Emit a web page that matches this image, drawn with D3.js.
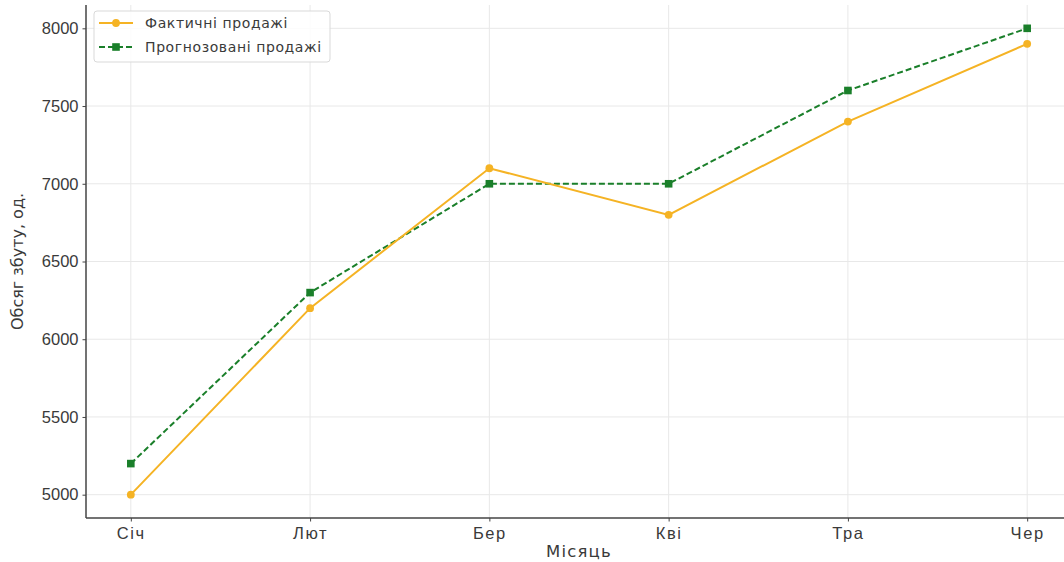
<!DOCTYPE html>
<html>
<head>
<meta charset="utf-8">
<script src="https://cdn.jsdelivr.net/npm/d3@7"></script>
<style>
  html, body { margin: 0; padding: 0; background: #fff; }
  svg { display: block; font-family: "DejaVu Sans", sans-serif; }
</style>
</head>
<body>
<svg id="chart" width="1064" height="562"></svg>
<script>
// Monthly sales: actual vs forecast
const months = ["Січ", "Лют", "Бер", "Кві", "Тра", "Чер"];
const actualSales = [5000, 6200, 7100, 6800, 7400, 7900];
const forecastSales = [5200, 6300, 7000, 7000, 7600, 8000];
const yTicks = [5000, 5500, 6000, 6500, 7000, 7500, 8000];
const seriesNames = ["Фактичні продажі", "Прогнозовані продажі"];

const svg = d3.select("#chart");
const margin = { left: 86, right: -8, top: 5, bottom: 44 };
const W = 1064, H = 562;

// padded domains (5% margins on each side)
const x = d3.scaleLinear()
  .domain([-0.25, months.length - 1 + 0.25])
  .range([margin.left, W - margin.right]);
const y = d3.scaleLinear()
  .domain([4850, 8150])
  .range([H - margin.bottom, margin.top]);

const plotTop = y(8150), plotBottom = y(4850), plotLeft = x(-0.25), plotRight = x(5.25);

// grid
const grid = svg.append("g");
grid.selectAll("line.gy").data(yTicks).join("line")
  .attr("x1", plotLeft).attr("x2", plotRight)
  .attr("y1", d => y(d)).attr("y2", d => y(d))
  .attr("stroke", "#e8e8e8").attr("stroke-width", 1);
grid.selectAll("line.gx").data(months.map((m, i) => i)).join("line")
  .attr("x1", d => x(d)).attr("x2", d => x(d))
  .attr("y1", plotTop).attr("y2", plotBottom)
  .attr("stroke", "#e8e8e8").attr("stroke-width", 1);

// axes
const xAxis = d3.axisBottom(x)
  .tickValues(months.map((m, i) => i))
  .tickFormat(i => months[i])
  .tickSize(3.5).tickPadding(4);
const yAxis = d3.axisLeft(y)
  .tickValues(yTicks)
  .tickFormat(d3.format("d"))
  .tickSize(3.5).tickPadding(4);

const gx = svg.append("g").attr("transform", `translate(0,${plotBottom})`).call(xAxis);
const gy = svg.append("g").attr("transform", `translate(${plotLeft},0)`).call(yAxis);
[gx, gy].forEach(g => {
  g.select(".domain").remove();
  g.selectAll(".tick line").attr("stroke", "#444").attr("stroke-width", 1);
  g.selectAll(".tick text").attr("fill", "#3a3a3a").style("font-size", "16.5px");
});
gx.selectAll(".tick text").style("letter-spacing", "1.6px").attr("dy", "0.8em");

// spines (left and bottom only)
svg.append("line").attr("x1", plotLeft).attr("x2", plotLeft)
  .attr("y1", plotTop).attr("y2", plotBottom)
  .attr("stroke", "#444").attr("stroke-width", 1.5);
svg.append("line").attr("x1", plotLeft).attr("x2", plotRight)
  .attr("y1", plotBottom).attr("y2", plotBottom)
  .attr("stroke", "#444").attr("stroke-width", 1.5);

// axis titles
svg.append("text")
  .attr("x", 579).attr("y", 557)
  .attr("text-anchor", "middle").attr("fill", "#3a3a3a")
  .style("font-size", "16.5px").style("letter-spacing", "1.2px").text("Місяць");
svg.append("text")
  .attr("transform", `translate(23,${(plotTop + plotBottom) / 2}) rotate(-90)`)
  .attr("text-anchor", "middle").attr("fill", "#3a3a3a")
  .style("font-size", "16px").text("Обсяг збуту, од.");

const orange = "#f5b324";
const green = "#1a7f2a";

const line = d3.line().x((d, i) => x(i)).y(d => y(d));

// forecast series (dashed, square markers)
svg.append("path").datum(forecastSales)
  .attr("d", line).attr("fill", "none")
  .attr("stroke", green).attr("stroke-width", 2)
  .attr("stroke-dasharray", "6,3");
svg.selectAll("rect.fc").data(forecastSales).join("rect")
  .attr("x", (d, i) => x(i) - 3.8).attr("y", d => y(d) - 3.8)
  .attr("width", 7.6).attr("height", 7.6).attr("fill", green);

// actual series (solid, circle markers)
svg.append("path").datum(actualSales)
  .attr("d", line).attr("fill", "none")
  .attr("stroke", orange).attr("stroke-width", 2);
svg.selectAll("circle.ac").data(actualSales).join("circle")
  .attr("cx", (d, i) => x(i)).attr("cy", d => y(d))
  .attr("r", 3.9).attr("fill", orange);

// legend
const lg = svg.append("g").attr("transform", "translate(94,11)");
lg.append("rect").attr("width", 236).attr("height", 51).attr("rx", 3)
  .attr("fill", "#fff").attr("fill-opacity", 0.85)
  .attr("stroke", "#d9d9d9").attr("stroke-width", 1);
const items = [
  { name: seriesNames[0], color: orange, dash: null, shape: "circle" },
  { name: seriesNames[1], color: green, dash: "6,3", shape: "square" }
];
items.forEach((it, i) => {
  const yy = 12 + i * 24;
  lg.append("line").attr("x1", 5).attr("x2", 39).attr("y1", yy).attr("y2", yy)
    .attr("stroke", it.color).attr("stroke-width", 2)
    .attr("stroke-dasharray", it.dash);
  if (it.shape === "circle") {
    lg.append("circle").attr("cx", 22).attr("cy", yy).attr("r", 3.9).attr("fill", it.color);
  } else {
    lg.append("rect").attr("x", 18.2).attr("y", yy - 3.8).attr("width", 7.6).attr("height", 7.6).attr("fill", it.color);
  }
  lg.append("text").attr("x", 51).attr("y", yy + 5)
    .attr("fill", "#3a3a3a").style("font-size", "14px").style("letter-spacing", "0.6px")
    .text(it.name);
});
</script>
</body>
</html>
